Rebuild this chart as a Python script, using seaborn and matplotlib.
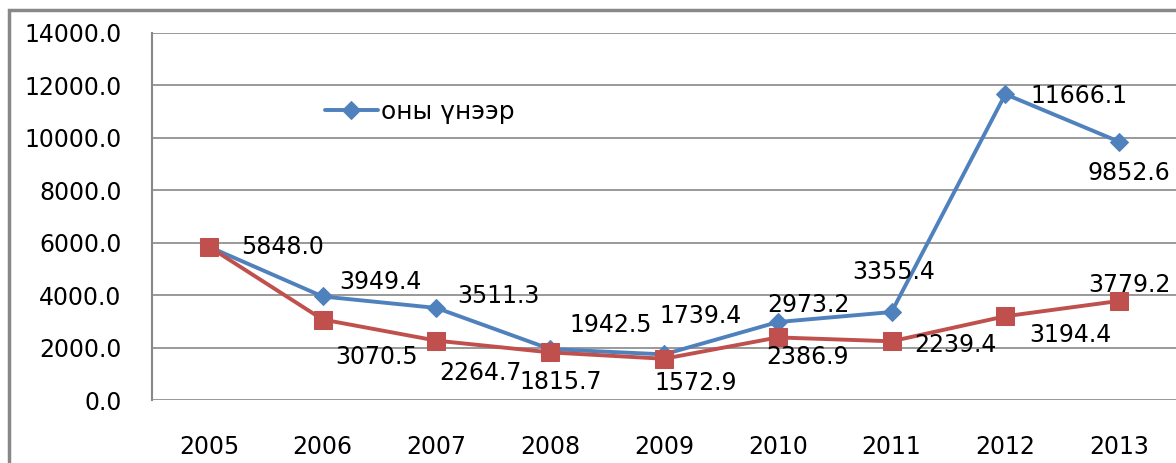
import pandas as pd
import matplotlib
matplotlib.use("Agg")
import matplotlib.pyplot as plt
import seaborn as sns
from matplotlib.patches import Rectangle

years = ["2005", "2006", "2007", "2008", "2009", "2010", "2011", "2012", "2013"]
blue_values = [5848.0, 3949.4, 3511.3, 1942.5, 1739.4, 2973.2, 3355.4, 11666.1, 9852.6]
red_values = [5848.0, 3070.5, 2264.7, 1815.7, 1572.9, 2386.9, 2239.4, 3194.4, 3779.2]
legend_label = "оны үнээр"

# label offsets in pixels (style only)
blue_offsets = [(74, 0), (58, 14), (62, 12), (60, 24), (37, 38), (31, 17), (2, 40), (74, -2), (10, -31)]
red_offsets = [None, (54, -37), (44, -32), (10, -30), (32, -24), (30, -20), (64, -4), (65, -19), (10, 16)]

BLUE = "#4F81BD"
RED = "#C0504D"

sns.set_style("white")
plt.rcParams["font.family"] = ["DejaVu Sans"]

df = pd.DataFrame({"x": range(len(years)), "blue": blue_values, "red": red_values})

fig = plt.figure(figsize=(11.76, 4.63), dpi=100)
ax = fig.add_axes([152 / 1176, 63 / 463, 1 - 152 / 1176, 367 / 463])

sns.lineplot(data=df, x="x", y="blue", ax=ax, color=BLUE, marker="D", markersize=9,
             markeredgecolor=BLUE, linewidth=2.8, label=legend_label, zorder=3)
sns.lineplot(data=df, x="x", y="red", ax=ax, color=RED, marker="s", markersize=13,
             markeredgecolor=RED, linewidth=2.8, label="_nolegend_", zorder=4)

ax.set_xlim(-0.5, len(years) - 0.5)
ax.set_ylim(0, 14000)
ax.set_yticks(range(0, 14001, 2000))
ax.set_yticklabels([f"{v:.1f}" for v in range(0, 14001, 2000)])
ax.set_xticks(range(len(years)))
ax.set_xticklabels(years)
ax.tick_params(axis="y", labelsize=17, pad=22, length=0, labelcolor="black")
ax.tick_params(axis="x", labelsize=17, pad=25, length=0, labelcolor="black")
ax.set_xlabel("")
ax.set_ylabel("")

ax.yaxis.grid(True, color="#888888", linewidth=1.2)
ax.set_axisbelow(True)
for s in ["top", "right", "bottom"]:
    ax.spines[s].set_visible(False)
ax.spines["left"].set_color("#888888")
ax.spines["left"].set_linewidth(1.5)

for i, v in enumerate(blue_values):
    ax.annotate(f"{v:.1f}", (i, v), xytext=blue_offsets[i], textcoords="offset pixels",
                ha="center", va="center", fontsize=17, color="black", zorder=5)
for i, v in enumerate(red_values):
    if red_offsets[i] is None:
        continue
    ax.annotate(f"{v:.1f}", (i, v), xytext=red_offsets[i], textcoords="offset pixels",
                ha="center", va="center", fontsize=17, color="black", zorder=5)

leg = ax.legend(loc="center left", bbox_to_anchor=(325 / 1176, 1 - 112 / 463),
                bbox_transform=fig.transFigure, frameon=False, fontsize=18,
                handlelength=2.1, handletextpad=0.15, borderpad=0, borderaxespad=0)
for t in leg.get_texts():
    t.set_color("black")

# outer chart border
fig.patches.append(Rectangle((9 / 1176, -0.5), 2, 1.5 - 10 / 463, transform=fig.transFigure,
                             fill=False, edgecolor="#888888", linewidth=2.5))

fig.savefig("out.png", dpi=100)
